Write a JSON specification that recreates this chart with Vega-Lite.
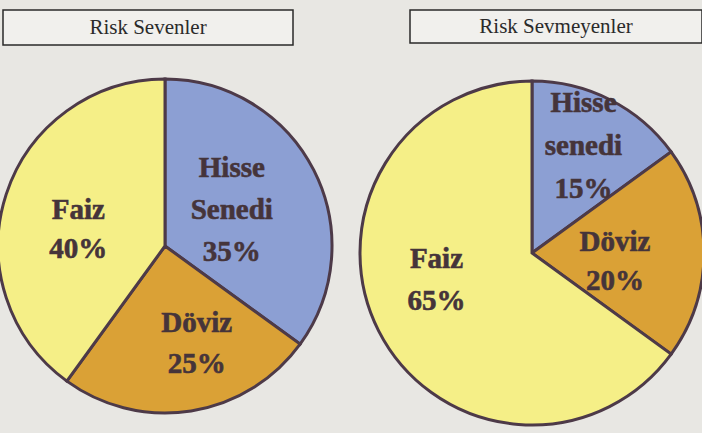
{
  "$schema": "https://vega.github.io/schema/vega-lite/v6.json",
  "background": "#e8e7e3",
  "padding": {"left": -8, "top": 9, "right": 0, "bottom": 0},
  "bounds": "flush",
  "columns": 2,
  "spacing": {"row": 20, "column": 83},
  "config": {"view": {"stroke": null}},
  "datasets": {
    "pies": [
      {"group": "Risk Sevenler", "category": "Hisse Senedi", "rank": 1, "percent": 35, "label": "Hisse Senedi 35%"},
      {"group": "Risk Sevenler", "category": "Döviz", "rank": 2, "percent": 25, "label": "Döviz 25%"},
      {"group": "Risk Sevenler", "category": "Faiz", "rank": 3, "percent": 40, "label": "Faiz 40%"},
      {"group": "Risk Sevmeyenler", "category": "Hisse Senedi", "rank": 1, "percent": 15, "label": "Hisse senedi 15%"},
      {"group": "Risk Sevmeyenler", "category": "Döviz", "rank": 2, "percent": 20, "label": "Döviz 20%"},
      {"group": "Risk Sevmeyenler", "category": "Faiz", "rank": 3, "percent": 65, "label": "Faiz 65%"}
    ]
  },
  "concat": [
    {
      "width": 290, "height": 35,
      "data": {"values": [{"title": "Risk Sevenler"}]},
      "view": {"stroke": "#2a2a2a", "strokeWidth": 1.5, "fill": "#f1f0ed"},
      "mark": {"type": "text", "font": "Liberation Serif", "fontSize": 21, "color": "#2a2a2a", "baseline": "middle", "align": "center"},
      "encoding": {"text": {"field": "title"}}
    },
    {
      "width": 292, "height": 33,
      "data": {"values": [{"title": "Risk Sevmeyenler"}]},
      "view": {"stroke": "#2a2a2a", "strokeWidth": 1.5, "fill": "#f1f0ed"},
      "mark": {"type": "text", "font": "Liberation Serif", "fontSize": 21, "color": "#2a2a2a", "baseline": "middle", "align": "center"},
      "encoding": {"text": {"field": "title"}}
    },
    {
      "width": 324, "height": 362,
      "data": {"name": "pies"},
      "transform": [{"filter": "datum.group === 'Risk Sevenler'"}],
      "encoding": {
        "theta": {"field": "percent", "type": "quantitative", "stack": true},
        "order": {"field": "rank", "type": "quantitative"}
      },
      "layer": [
        {
          "mark": {"type": "arc", "outerRadius": 167, "stroke": "#4d3a48", "strokeWidth": 3},
          "encoding": {
            "color": {"field": "category", "type": "nominal", "legend": null,
              "scale": {"domain": ["Hisse Senedi", "Döviz", "Faiz"], "range": ["#8c9fd3", "#daa136", "#f5ef87"]}}
          }
        },
        {
          "mark": {"type": "text", "radius": 75, "dy": -44, "lineBreak": " ", "font": "Liberation Serif", "fontWeight": "bold", "fontSize": 29, "lineHeight": 42, "color": "#45343a", "stroke": "#45343a", "strokeWidth": 0.6, "align": "center", "baseline": "middle"},
          "encoding": {"text": {"condition": {"test": "datum.category === 'Hisse Senedi'", "field": "label"}, "value": ""}}
        },
        {
          "mark": {"type": "text", "radius": 88, "dx": -3, "dy": -9, "lineBreak": " ", "font": "Liberation Serif", "fontWeight": "bold", "fontSize": 29, "lineHeight": 39, "color": "#45343a", "stroke": "#45343a", "strokeWidth": 0.6, "align": "center", "baseline": "middle"},
          "encoding": {"text": {"condition": {"test": "datum.category === 'Faiz'", "field": "label"}, "value": ""}}
        },
        {
          "mark": {"type": "text", "radius": 100, "dx": 16, "dy": -22, "lineBreak": " ", "font": "Liberation Serif", "fontWeight": "bold", "fontSize": 29, "lineHeight": 41, "color": "#45343a", "stroke": "#45343a", "strokeWidth": 0.6, "align": "center", "baseline": "middle"},
          "encoding": {"text": {"condition": {"test": "datum.category === 'Döviz'", "field": "label"}, "value": ""}}
        }
      ]
    },
    {
      "width": 244, "height": 376,
      "data": {"name": "pies"},
      "transform": [{"filter": "datum.group === 'Risk Sevmeyenler'"}],
      "encoding": {
        "theta": {"field": "percent", "type": "quantitative", "stack": true},
        "order": {"field": "rank", "type": "quantitative"}
      },
      "layer": [
        {
          "mark": {"type": "arc", "outerRadius": 172, "stroke": "#4d3a48", "strokeWidth": 3},
          "encoding": {
            "color": {"field": "category", "type": "nominal", "legend": null,
              "scale": {"domain": ["Hisse Senedi", "Döviz", "Faiz"], "range": ["#8c9fd3", "#daa136", "#f5ef87"]}}
          }
        },
        {
          "mark": {"type": "text", "radius": 120, "dx": -3, "dy": -43, "lineBreak": " ", "font": "Liberation Serif", "fontWeight": "bold", "fontSize": 29, "lineHeight": 43, "color": "#45343a", "stroke": "#45343a", "strokeWidth": 0.6, "align": "center", "baseline": "middle"},
          "encoding": {"text": {"condition": {"test": "datum.category === 'Hisse Senedi'", "field": "label"}, "value": ""}}
        },
        {
          "mark": {"type": "text", "radius": 87, "dx": -4, "dy": -11, "lineBreak": " ", "font": "Liberation Serif", "fontWeight": "bold", "fontSize": 29, "lineHeight": 39, "color": "#45343a", "stroke": "#45343a", "strokeWidth": 0.6, "align": "center", "baseline": "middle"},
          "encoding": {"text": {"condition": {"test": "datum.category === 'Döviz'", "field": "label"}, "value": ""}}
        },
        {
          "mark": {"type": "text", "radius": 96, "dx": -10, "dy": -38, "lineBreak": " ", "font": "Liberation Serif", "fontWeight": "bold", "fontSize": 29, "lineHeight": 42, "color": "#45343a", "stroke": "#45343a", "strokeWidth": 0.6, "align": "center", "baseline": "middle"},
          "encoding": {"text": {"condition": {"test": "datum.category === 'Faiz'", "field": "label"}, "value": ""}}
        }
      ]
    }
  ]
}
